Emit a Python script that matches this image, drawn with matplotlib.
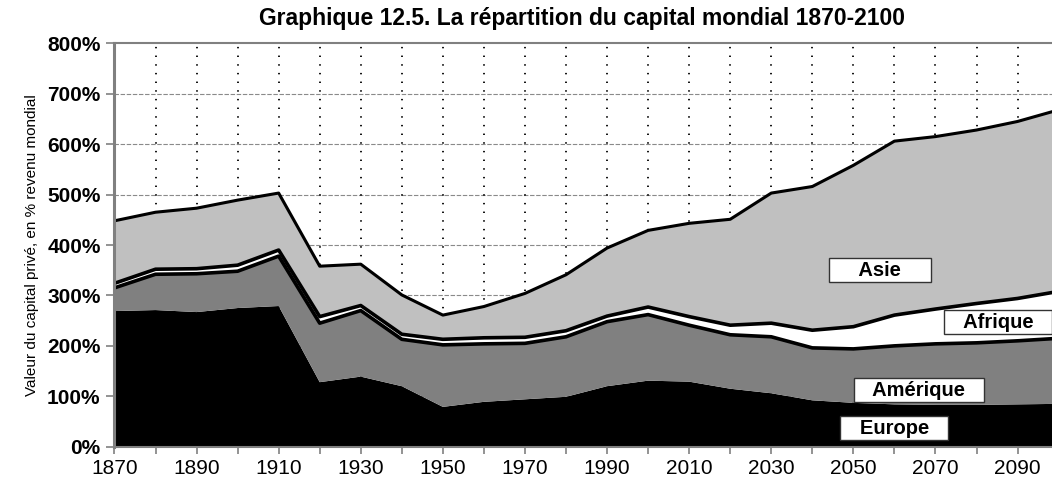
import numpy as np
import matplotlib
matplotlib.use("Agg")
import matplotlib.pyplot as plt
from matplotlib.ticker import FixedLocator, MultipleLocator, FuncFormatter

plt.rcParams['font.family'] = ['Liberation Sans', 'DejaVu Sans']

# data: share of world private capital, % of world income, by region
years = list(range(1870, 2101, 10))
europe = [269, 271, 267, 275, 279, 128, 139, 120, 79, 89, 94, 99, 120, 131,
          129, 115, 106, 92, 87, 84, 83, 83, 84, 85]
amerique = [46, 71, 76, 73, 99, 117, 131, 93, 123, 115, 111, 119, 128, 131,
            112, 107, 112, 104, 107, 116, 121, 123, 126, 130]
afrique = [9, 10, 10, 12, 12, 13, 10, 10, 11, 12, 12, 12, 11, 15,
           17, 19, 27, 35, 44, 61, 69, 78, 84, 93]
asie = [124, 113, 120, 129, 113, 100, 82, 78, 48, 62, 87, 111, 135, 152,
        185, 210, 258, 285, 320, 345, 342, 344, 351, 360]
regions = ["Europe", "Amérique", "Afrique", "Asie"]
colors = ["black", "#808080", "white", "#c0c0c0"]
tick_years = list(range(1870, 2100, 20))

fig = plt.figure(figsize=(10.52, 4.79), dpi=100)
ax = fig.add_axes([0.1088, 0.0674, 0.8975, 0.8422])

# stacked areas, outlines drawn separately
ax.stackplot(years, europe, amerique, afrique, asie, colors=colors,
             linewidth=0, zorder=2)
cum = np.cumsum([europe, amerique, afrique, asie], axis=0)
ax.plot(years, cum[1], color="black", lw=2.6, zorder=3)
ax.plot(years, cum[2], color="black", lw=2.6, zorder=3)
ax.plot(years, cum[3], color="black", lw=2.2, zorder=3)

ax.set_xlim(1870, 2100)
ax.set_ylim(0, 800)

# grid
for y in range(100, 800, 100):
    ax.axhline(y, color="#8a8a8a", lw=0.8, ls=(0, (4, 1.5)), zorder=1)
for x in range(1880, 2100, 10):
    ax.axvline(x, color="black", lw=1.3, ls=(0, (0.8, 4.0)), zorder=1)

# axes styling
for s in ["left", "bottom", "top"]:
    ax.spines[s].set_color("#808080")
ax.spines["left"].set_linewidth(2.2)
ax.spines["bottom"].set_linewidth(1.5)
ax.spines["top"].set_linewidth(1.5)
ax.spines["right"].set_visible(False)
ax.spines["left"].set_zorder(4)

ax.xaxis.set_major_locator(FixedLocator(tick_years))
ax.xaxis.set_minor_locator(MultipleLocator(10))
ax.yaxis.set_major_locator(MultipleLocator(100))
ax.yaxis.set_major_formatter(FuncFormatter(lambda v, p: f"{int(v)}%"))
ax.tick_params(axis="x", which="both", direction="out", length=5,
               color="#808080", width=1.2, labelsize=15, pad=4)
ax.tick_params(axis="y", direction="out", length=6, color="#808080",
               width=1.2, labelsize=15, pad=4)
for lab in ax.get_yticklabels():
    lab.set_fontweight("bold")

ax.set_ylabel("Valeur du capital privé, en % revenu mondial",
              family=["Liberation Sans Narrow", "Liberation Sans"],
              fontsize=11, labelpad=6)
fig.text(0.553, 0.962, "Graphique 12.5. La répartition du capital mondial 1870-2100",
         ha="center", va="center", fontsize=16.5, fontweight="bold")

# region labels
box = dict(boxstyle="square,pad=0.12", fc="white", ec="#333333", lw=1)
label_pos = {"Asie": (2056.5, 350), "Afrique": (2085.3, 247),
             "Amérique": (2066.0, 112), "Europe": (2060.0, 37)}
label_pad = {"Asie": 5, "Afrique": 3, "Amérique": 3, "Europe": 3}
for name in regions:
    x, y = label_pos[name]
    sp = " " * label_pad[name]
    ax.text(x, y, sp + name + sp, ha="center", va="center",
            fontsize=14.5, fontweight="bold", bbox=box, zorder=5)

fig.savefig("out.png", dpi=100)
